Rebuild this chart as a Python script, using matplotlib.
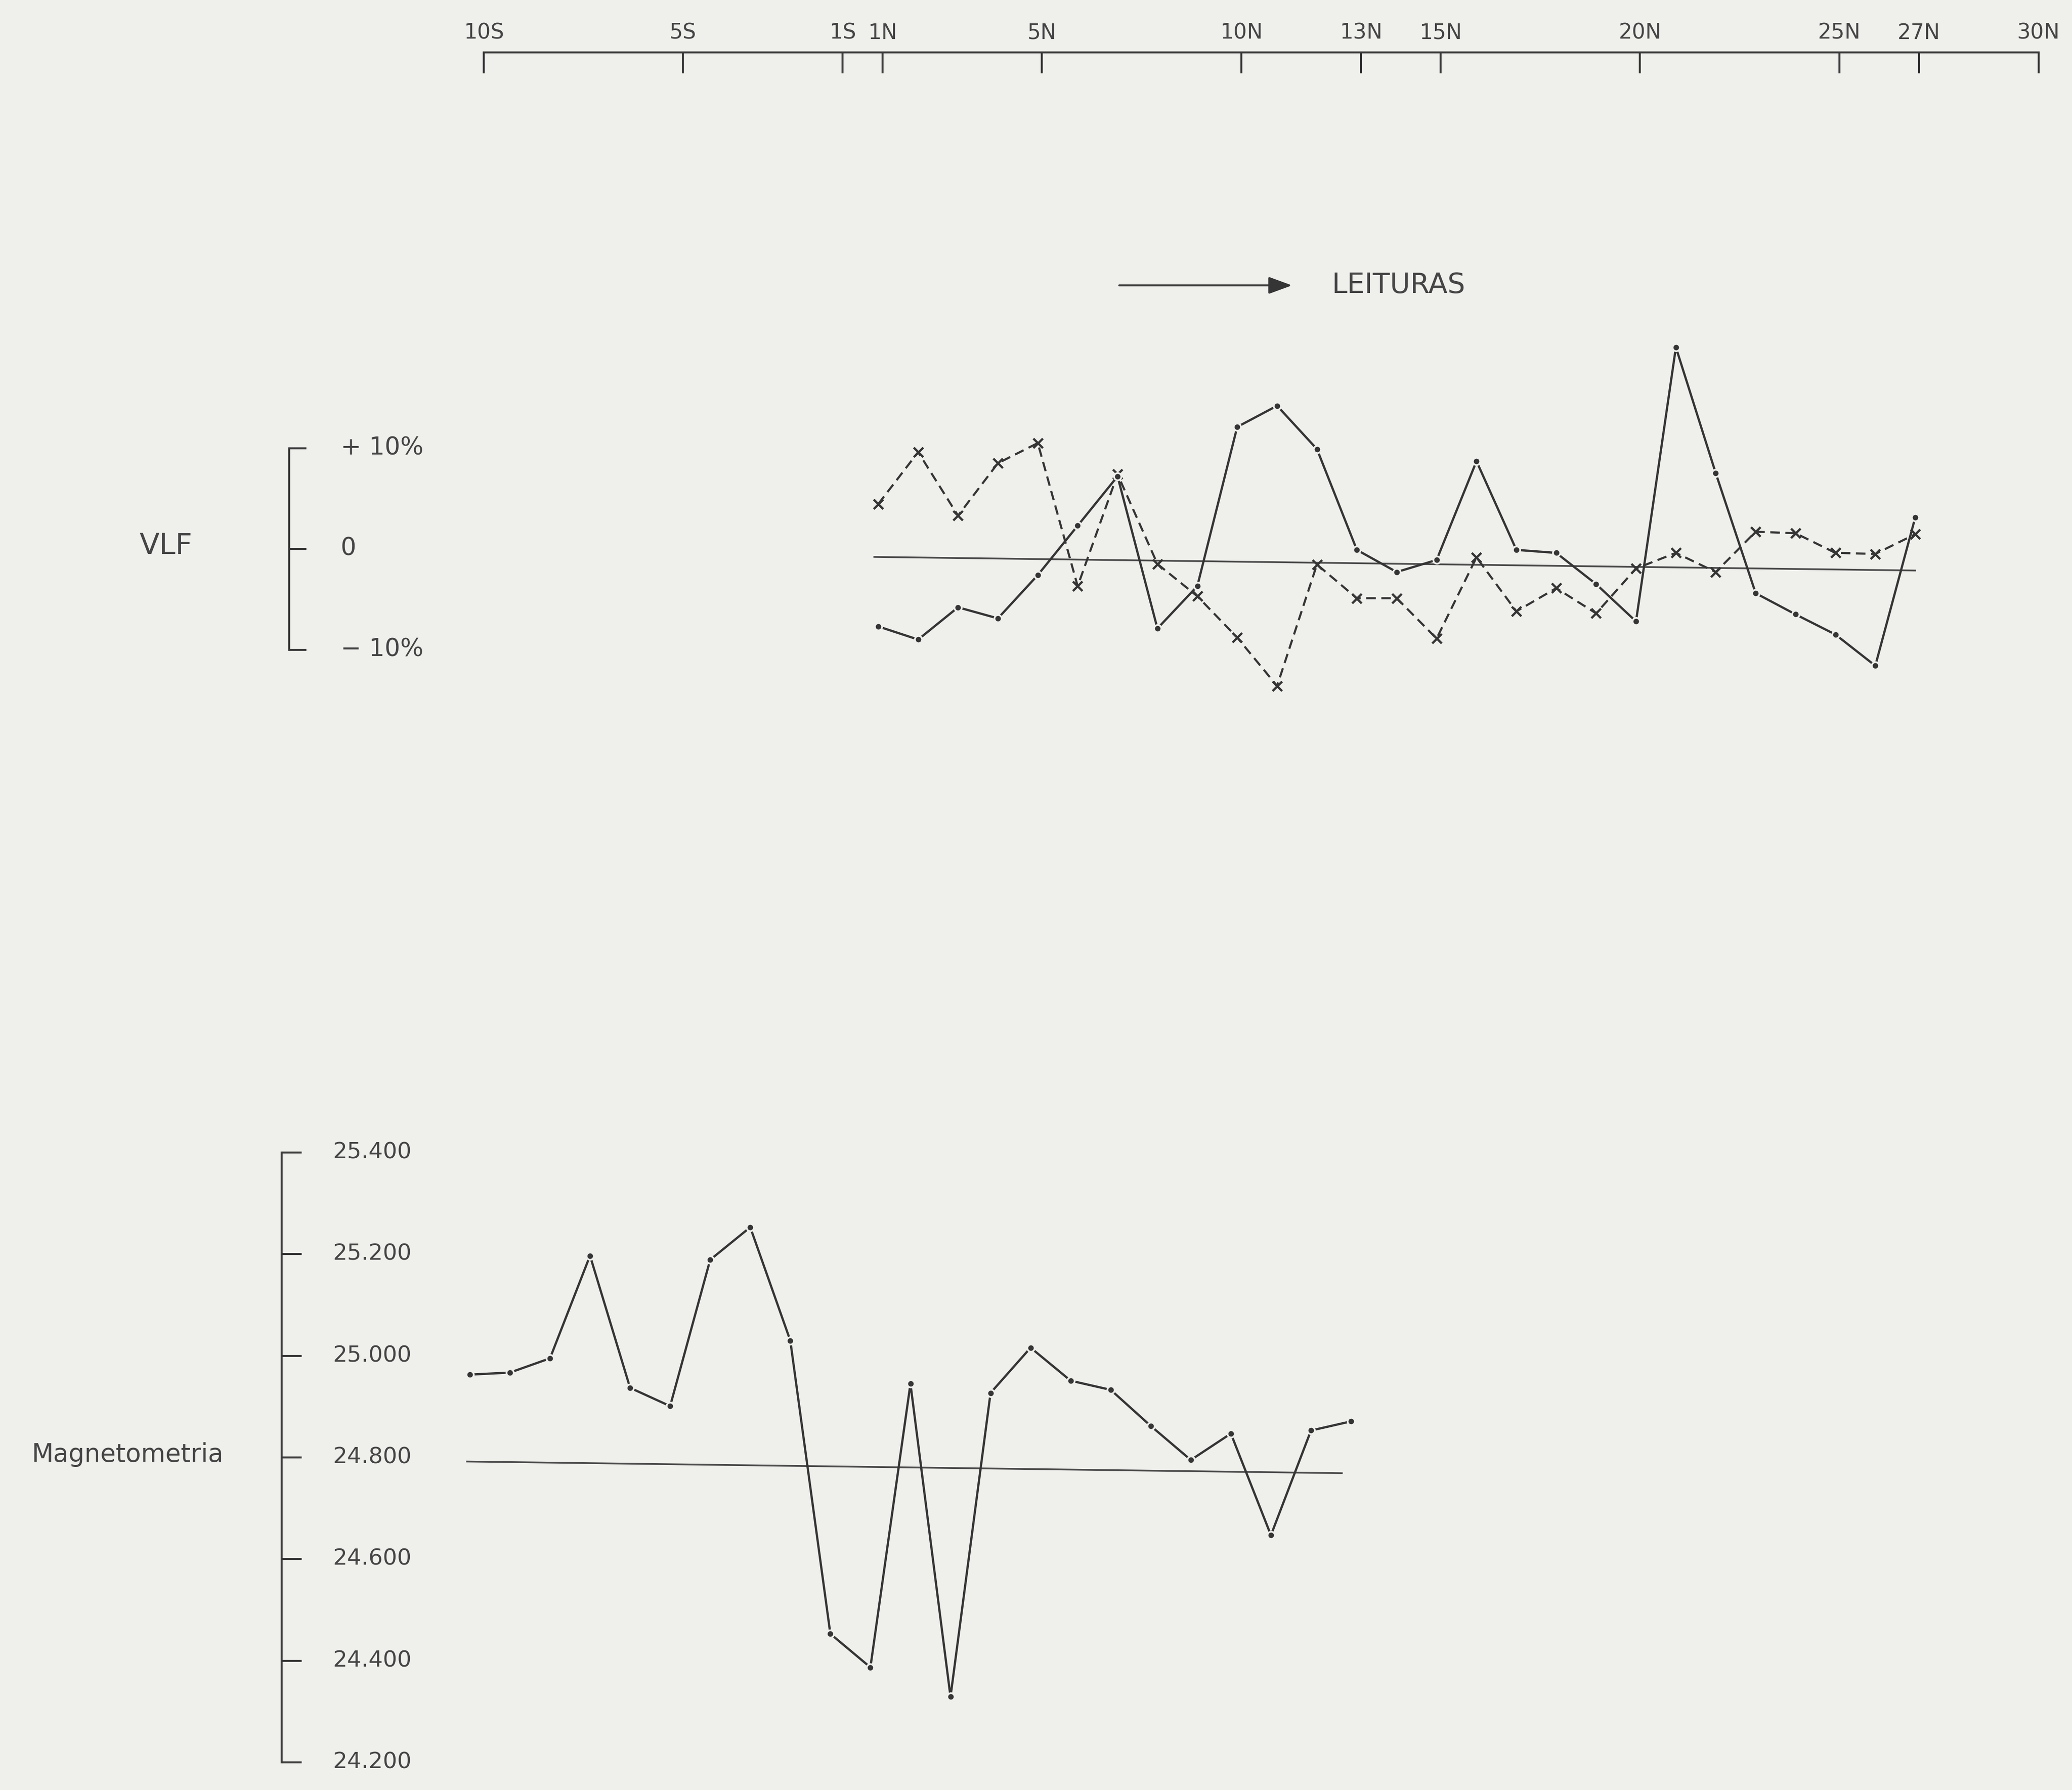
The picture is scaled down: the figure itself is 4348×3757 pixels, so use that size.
import matplotlib
matplotlib.use('Agg')
import matplotlib.pyplot as plt

# tamanho da figura (pixels) e cores do papel digitalizado
W, H = 4348, 3757
DPI = 100
BG = '#efefec'
INK = '#353535'
TXT = '#454545'

# eixo das estacoes (topo)
top_labels = ['10S', '5S', '1S', '1N', '5N', '10N', '13N', '15N', '20N', '25N', '27N', '30N']
top_first, top_last = '10S', '30N'

# VLF (%)
vlf_stations = [f'{n}N' for n in range(1, 28)]
vlf_solid = [-7.7, -9.0, -5.8, -6.9, -2.6, 2.3, 7.2, -7.9, -3.7, 12.1,
             14.2, 9.9, -0.1, -2.3, -1.1, 8.7, -0.1, -0.4, -3.5, -7.2,
             20.0, 7.5, -4.4, -6.5, -8.5, -11.6, 3.1]
vlf_dashed = [4.45, 9.6, 3.3, 8.5, 10.5, -3.7, 7.4, -1.5, -4.7, -8.8,
              -13.6, -1.55, -4.9, -4.9, -8.9, -0.85, -6.2, -3.9, -6.4, -1.95,
              -0.4, -2.3, 1.7, 1.55, -0.4, -0.5, 1.45]
vlf_base_x = [0.9, 27.0]
vlf_base = [-0.8, -2.15]
vlf_ticks = [10, 0, -10]
vlf_tick_labels = ['+ 10%', '0', '\u2212 10%']

# Magnetometria (nT)
mag_stations = ['10S', '9S', '8S', '7S', '6S', '5S', '4S', '3S', '2S', '1S',
                '1N', '2N', '3N', '4N', '5N', '6N', '7N', '8N', '9N', '10N',
                '11N', '12N', '13N']
mag_values = [24963, 24967, 24995, 25197, 24937, 24901, 25189, 25253, 25030, 24453,
              24387, 24945, 24329, 24927, 25016, 24951, 24933, 24862, 24795, 24847,
              24647, 24853, 24871]
mag_base_x = [-9.07, 12.77]
mag_base = [24792, 24769]
mag_ticks = [25400, 25200, 25000, 24800, 24600, 24400, 24200]


def station_pos(lbl):
    # 1S fica logo antes de 1N: 1S -> 0, 10S -> -9, nN -> n
    n = int(lbl[:-1])
    return n if lbl[-1] == 'N' else 1 - n


def px_axes(fig, x0, y0, x1, y1):
    ax = fig.add_axes([x0 / W, 1 - y1 / H, (x1 - x0) / W, (y1 - y0) / H])
    ax.set_facecolor('none')
    return ax


def lim_from_px(p0, p1, ref_val, ref_px, px_per_unit):
    return (ref_val + (p0 - ref_px) / px_per_unit, ref_val + (p1 - ref_px) / px_per_unit)


def dotted_line(ax, x, y):
    # linha cheia com pontos marcados (pequeno intervalo em volta de cada ponto)
    ax.plot(x, y, '-', lw=3.4, color=INK, solid_capstyle='round', clip_on=False)
    ax.plot(x, y, ls='none', marker='o', ms=11, mfc=INK, mec=BG, mew=2.6, clip_on=False)


fig = plt.figure(figsize=(W / DPI, H / DPI), dpi=DPI, facecolor=BG)

# ---- eixo das estacoes ----
x0, x1 = 1015, 4278
ax_t = px_axes(fig, x0, 110, x1, 200)
ax_t.set_xlim(station_pos(top_first), station_pos(top_last))
ax_t.set_ylim(0, 1)
for s in ['left', 'right', 'bottom']:
    ax_t.spines[s].set_visible(False)
ax_t.spines['top'].set_linewidth(3.0)
ax_t.spines['top'].set_color(INK)
ax_t.xaxis.tick_top()
ax_t.set_xticks([station_pos(l) for l in top_labels])
ax_t.set_xticklabels(top_labels)
ax_t.set_yticks([])
ax_t.tick_params(axis='x', direction='in', length=32, width=3.0, color=INK,
                 pad=14, labelsize=32, labelcolor=TXT)

# ---- VLF ----
vx0, vy0, vx1, vy1 = 607, 650, 4340, 1480
ax_v = px_axes(fig, vx0, vy0, vx1, vy1)
ax_v.set_xlim(*lim_from_px(vx0, vx1, 1, 1843, 83.69))
ax_v.set_ylim(*lim_from_px(vy1, vy0, 0, 1152, -21.15))
for s in ['top', 'right', 'bottom']:
    ax_v.spines[s].set_visible(False)
ax_v.spines['left'].set_bounds(-10, 10)
ax_v.spines['left'].set_linewidth(3.0)
ax_v.spines['left'].set_color(INK)
ax_v.set_xticks([])
ax_v.set_yticks(vlf_ticks)
ax_v.tick_params(axis='y', direction='in', length=26, width=3.0, color=INK, labelleft=False)
lx = (715 - vx0) / (vx1 - vx0)
for v, lab in zip(vlf_ticks, vlf_tick_labels):
    ax_v.text(lx, v, lab, transform=ax_v.get_yaxis_transform(), ha='left', va='center',
              fontsize=37, color=TXT)

vx = [station_pos(s) for s in vlf_stations]
ax_v.plot(vlf_base_x, vlf_base, color='#4a4a4a', lw=2.6)
ax_v.plot(vx, vlf_dashed, ls=(0, (4.5, 2.6)), lw=3.2, color=INK, marker='x', ms=15, mew=3.4,
          clip_on=False)
dotted_line(ax_v, vx, vlf_solid)

fig.text(293 / W, 1 - 1146 / H, 'VLF', ha='left', va='center', fontsize=44, color=TXT)

# legenda: direcao das leituras
fig.patches.append(matplotlib.patches.FancyArrowPatch(
    (2346 / W, 1 - 599 / H), (2714 / W, 1 - 599 / H), transform=fig.transFigure,
    arrowstyle='-|>,head_length=0.6,head_width=0.22', mutation_scale=50,
    lw=3.0, color=INK))
fig.text(2794 / W, 1 - 599 / H, 'LEITURAS', ha='left', va='center', fontsize=42, color=TXT)

# ---- Magnetometria ----
mx0, my0, mx1, my1 = 591, 2350, 3000, 3740
ax_m = px_axes(fig, mx0, my0, mx1, my1)
ax_m.set_xlim(*lim_from_px(mx0, mx1, -9, 986, 84.05))
ax_m.set_ylim(*lim_from_px(my1, my0, 25400, 2419, -1.0667))
for s in ['top', 'right', 'bottom']:
    ax_m.spines[s].set_visible(False)
ax_m.spines['left'].set_bounds(min(mag_ticks), max(mag_ticks))
ax_m.spines['left'].set_linewidth(3.0)
ax_m.spines['left'].set_color(INK)
ax_m.set_xticks([])
ax_m.set_yticks(mag_ticks)
ax_m.tick_params(axis='y', direction='in', length=30, width=3.0, color=INK, labelleft=False)
lx = (698 - mx0) / (mx1 - mx0)
for v in mag_ticks:
    ax_m.text(lx, v, f'{v / 1000:.3f}', transform=ax_m.get_yaxis_transform(),
              ha='left', va='center', fontsize=34, color=TXT)

mx = [station_pos(s) for s in mag_stations]
ax_m.plot(mag_base_x, mag_base, color='#4a4a4a', lw=2.6)
dotted_line(ax_m, mx, mag_values)

fig.text(67 / W, 1 - 3053 / H, 'Magnetometria', ha='left', va='center', fontsize=38, color=TXT)

fig.savefig('out.png', dpi=DPI, facecolor=BG)
plt.close(fig)
